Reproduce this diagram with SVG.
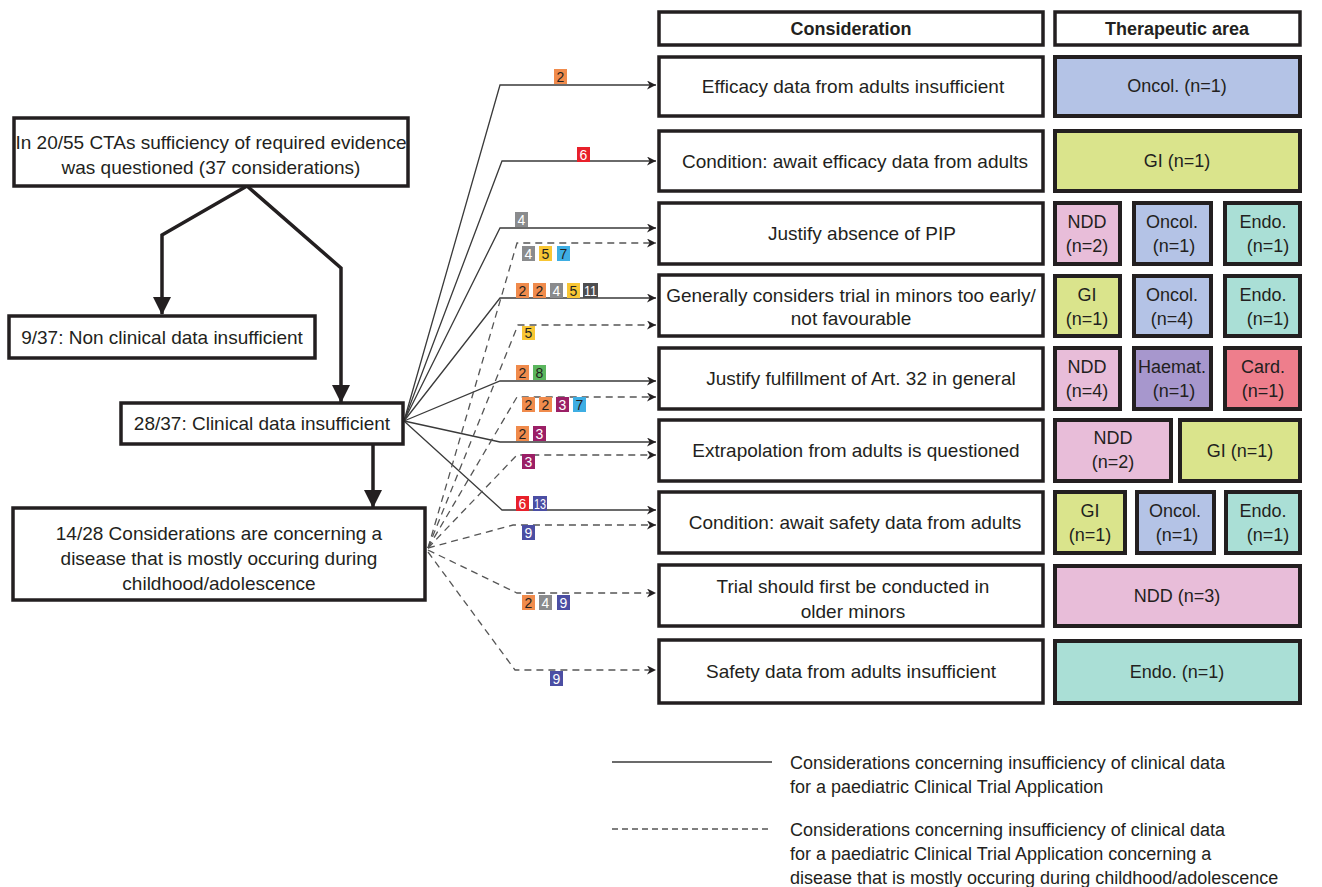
<svg xmlns="http://www.w3.org/2000/svg" width="1322" height="887" viewBox="0 0 1322 887">
<style>
text{font-family:"Liberation Sans",Arial,sans-serif;fill:#231f20}
.t{font-size:19px;text-anchor:middle}
.h{font-size:18px;font-weight:bold;text-anchor:middle}
.ta{font-size:18px;text-anchor:middle}
.lg{font-size:18px}
.box{fill:#fff;stroke:#231f20;stroke-width:3.5}
.tb{stroke:#231f20;stroke-width:4}
.onc{fill:#b4c3e6}.gi{fill:#dae48c}.ndd{fill:#e8bdd9}.endo{fill:#aadfd6}.hae{fill:#a797cd}.card{fill:#ee7e8c}
.flow{fill:none;stroke:#231f20;stroke-width:3.5}
.s{fill:none;stroke:#3a3a3a;stroke-width:1.3}
.d{fill:none;stroke:#555;stroke-width:1.3;stroke-dasharray:7 5}
.b text{font-size:14px;text-anchor:middle}
.w{fill:#fff}
</style>
<defs>
<marker id="a" viewBox="0 0 10 10" refX="10" refY="5" markerWidth="9" markerHeight="9" markerUnits="userSpaceOnUse" orient="auto">
<path d="M0,0 L10,5 L0,10 L3,5 z" fill="#231f20"/>
</marker>
<marker id="A" viewBox="0 0 18 18" refX="17" refY="9" markerWidth="18" markerHeight="18" markerUnits="userSpaceOnUse" orient="auto">
<path d="M0,0 L18,9 L0,18 z" fill="#231f20"/>
</marker>
</defs>

<g id="connectors">
<polyline class="flow" points="247,186 162,235 162,314" marker-end="url(#A)"/>
<polyline class="flow" points="247,186 341,268 341,402" marker-end="url(#A)"/>
<line class="flow" x1="373" y1="445" x2="373" y2="507" marker-end="url(#A)"/>
<polyline class="s" points="404,421 500,85 656,85" marker-end="url(#a)"/>
<polyline class="s" points="404,421 502,161 656,161" marker-end="url(#a)"/>
<polyline class="s" points="404,421 500,228 656,228" marker-end="url(#a)"/>
<polyline class="s" points="404,421 500,298 656,298" marker-end="url(#a)"/>
<polyline class="s" points="404,421 500,381 656,381" marker-end="url(#a)"/>
<polyline class="s" points="404,421 500,442 656,442" marker-end="url(#a)"/>
<polyline class="s" points="404,421 502,510 656,510" marker-end="url(#a)"/>
<polyline class="d" points="428,548 517,243 656,243" marker-end="url(#a)"/>
<polyline class="d" points="428,548 518,325 656,325" marker-end="url(#a)"/>
<polyline class="d" points="428,548 517,397 656,397" marker-end="url(#a)"/>
<polyline class="d" points="428,548 517,455 656,455" marker-end="url(#a)"/>
<polyline class="d" points="428,548 513,525 656,525" marker-end="url(#a)"/>
<polyline class="d" points="428,550 517,593 656,593" marker-end="url(#a)"/>
<polyline class="d" points="428,552 515,670 656,670" marker-end="url(#a)"/>
</g>

<g id="badges" class="b">
<rect x="554" y="69" width="13" height="15" fill="#f08b4c"/><text x="560.5" y="82">2</text>
<rect x="577" y="147" width="13" height="15" fill="#e8202a"/><text class="w" x="583.5" y="160">6</text>
<rect x="515" y="212" width="13" height="15" fill="#8a8b8d"/><text class="w" x="521.5" y="225">4</text>
<rect x="522" y="246" width="13" height="15" fill="#8a8b8d"/><text class="w" x="528.5" y="259">4</text>
<rect x="539" y="246" width="13" height="15" fill="#f8c634"/><text x="545.5" y="259">5</text>
<rect x="557" y="246" width="13" height="15" fill="#3eaee3"/><text x="563.5" y="259">7</text>
<rect x="516" y="283" width="13" height="15" fill="#f08b4c"/><text x="522.5" y="296">2</text>
<rect x="533" y="283" width="13" height="15" fill="#f08b4c"/><text x="539.5" y="296">2</text>
<rect x="550" y="283" width="13" height="15" fill="#8a8b8d"/><text class="w" x="556.5" y="296">4</text>
<rect x="567" y="283" width="13" height="15" fill="#f8c634"/><text x="573.5" y="296">5</text>
<rect x="583" y="283" width="15" height="15" fill="#4d4d4f"/><text class="w" x="590.5" y="296" textLength="13" lengthAdjust="spacingAndGlyphs">11</text>
<rect x="522" y="326" width="13" height="14" fill="#f8c634"/><text x="528.5" y="338">5</text>
<rect x="516" y="365" width="13" height="15" fill="#f08b4c"/><text x="522.5" y="378">2</text>
<rect x="533" y="365" width="13" height="15" fill="#5bb65e"/><text x="539.5" y="378">8</text>
<rect x="522" y="397" width="13" height="15" fill="#f08b4c"/><text x="528.5" y="410">2</text>
<rect x="539" y="397" width="13" height="15" fill="#f08b4c"/><text x="545.5" y="410">2</text>
<rect x="556" y="397" width="13" height="15" fill="#9b1f66"/><text class="w" x="562.5" y="410">3</text>
<rect x="573" y="397" width="13" height="15" fill="#3eaee3"/><text x="579.5" y="410">7</text>
<rect x="516" y="426" width="13" height="15" fill="#f08b4c"/><text x="522.5" y="439">2</text>
<rect x="533" y="426" width="13" height="15" fill="#9b1f66"/><text class="w" x="539.5" y="439">3</text>
<rect x="522" y="454" width="13" height="15" fill="#9b1f66"/><text class="w" x="528.5" y="467">3</text>
<rect x="516" y="496" width="13" height="15" fill="#e8202a"/><text class="w" x="522.5" y="509">6</text>
<rect x="533" y="496" width="14" height="15" fill="#4b4ea3"/><text class="w" x="540" y="509" textLength="12" lengthAdjust="spacingAndGlyphs">13</text>
<rect x="522" y="525" width="13" height="15" fill="#4b4ea3"/><text class="w" x="528.5" y="538">9</text>
<rect x="522" y="595" width="13" height="15" fill="#f08b4c"/><text x="528.5" y="608">2</text>
<rect x="539" y="595" width="13" height="15" fill="#8a8b8d"/><text class="w" x="545.5" y="608">4</text>
<rect x="557" y="595" width="13" height="15" fill="#4b4ea3"/><text class="w" x="563.5" y="608">9</text>
<rect x="550" y="671" width="13" height="15" fill="#4b4ea3"/><text class="w" x="556.5" y="684">9</text>
</g>

<g id="n-top"><rect class="box" x="14" y="118" width="394" height="68"/>
<text class="t" x="211" y="149">In 20/55 CTAs sufficiency of required evidence</text>
<text class="t" x="211" y="174">was questioned (37 considerations)</text></g>
<g id="n-nonclin"><rect class="box" x="9" y="316" width="306" height="42"/>
<text class="t" x="162" y="344">9/37: Non clinical data insufficient</text></g>
<g id="n-clin"><rect class="box" x="121" y="403" width="282" height="41"/>
<text class="t" x="262" y="430">28/37: Clinical data insufficient</text></g>
<g id="n-child"><rect class="box" x="13" y="508" width="412" height="92"/>
<text class="t" x="219" y="540">14/28 Considerations are concerning a</text>
<text class="t" x="219" y="565">disease that is mostly occuring during</text>
<text class="t" x="219" y="590">childhood/adolescence</text></g>

<g id="h-cons"><rect class="box" x="659" y="12" width="384" height="33"/><text class="h" x="851" y="35">Consideration</text></g>
<g id="h-ta"><rect class="box" x="1055" y="12" width="245" height="33"/><text class="h" x="1177" y="35">Therapeutic area</text></g>

<g id="c1"><rect class="box" x="659" y="57" width="384" height="59"/><text class="t" x="853" y="93">Efficacy data from adults insufficient</text></g>
<g id="c2"><rect class="box" x="659" y="131" width="384" height="60"/><text class="t" x="855" y="168">Condition: await efficacy data from adults</text></g>
<g id="c3"><rect class="box" x="659" y="203" width="384" height="61"/><text class="t" x="862" y="240">Justify absence of PIP</text></g>
<g id="c4"><rect class="box" x="659" y="275" width="384" height="61"/><text class="t" x="851" y="302">Generally considers trial in minors too early/</text><text class="t" x="851" y="325">not favourable</text></g>
<g id="c5"><rect class="box" x="659" y="348" width="384" height="61"/><text class="t" x="861" y="385">Justify fulfillment of Art. 32 in general</text></g>
<g id="c6"><rect class="box" x="659" y="420" width="384" height="61"/><text class="t" x="856" y="457">Extrapolation from adults is questioned</text></g>
<g id="c7"><rect class="box" x="659" y="492" width="384" height="61"/><text class="t" x="855" y="529">Condition: await safety data from adults</text></g>
<g id="c8"><rect class="box" x="659" y="565" width="384" height="61"/><text class="t" x="853" y="593">Trial should first be conducted in</text><text class="t" x="853" y="618">older minors</text></g>
<g id="c9"><rect class="box" x="659" y="640" width="384" height="63"/><text class="t" x="851" y="678">Safety data from adults insufficient</text></g>

<g id="t1"><rect class="tb onc" x="1055" y="57" width="245" height="59"/><text class="ta" x="1177" y="92">Oncol. (n=1)</text></g>
<g id="t2"><rect class="tb gi" x="1055" y="131" width="245" height="60"/><text class="ta" x="1177" y="167">GI (n=1)</text></g>
<g id="t3a"><rect class="tb ndd" x="1055" y="203" width="65" height="61"/><text class="ta" x="1087" y="228">NDD</text><text class="ta" x="1087" y="252">(n=2)</text></g>
<g id="t3b"><rect class="tb onc" x="1134" y="203" width="77" height="61"/><text class="ta" x="1172" y="228">Oncol.</text><text class="ta" x="1174" y="252">(n=1)</text></g>
<g id="t3c"><rect class="tb endo" x="1225" y="203" width="75" height="61"/><text class="ta" x="1263" y="228">Endo.</text><text class="ta" x="1268" y="252">(n=1)</text></g>
<g id="t4a"><rect class="tb gi" x="1055" y="276" width="65" height="60"/><text class="ta" x="1087" y="301">GI</text><text class="ta" x="1087" y="325">(n=1)</text></g>
<g id="t4b"><rect class="tb onc" x="1134" y="276" width="77" height="60"/><text class="ta" x="1172" y="301">Oncol.</text><text class="ta" x="1172" y="325">(n=4)</text></g>
<g id="t4c"><rect class="tb endo" x="1225" y="276" width="75" height="60"/><text class="ta" x="1263" y="301">Endo.</text><text class="ta" x="1268" y="325">(n=1)</text></g>
<g id="t5a"><rect class="tb ndd" x="1055" y="348" width="65" height="61"/><text class="ta" x="1087" y="373">NDD</text><text class="ta" x="1087" y="397">(n=4)</text></g>
<g id="t5b"><rect class="tb hae" x="1134" y="348" width="77" height="61"/><text class="ta" x="1172" y="373">Haemat.</text><text class="ta" x="1174" y="397">(n=1)</text></g>
<g id="t5c"><rect class="tb card" x="1225" y="348" width="75" height="61"/><text class="ta" x="1263" y="373">Card.</text><text class="ta" x="1263" y="397">(n=1)</text></g>
<g id="t6a"><rect class="tb ndd" x="1055" y="420" width="116" height="61"/><text class="ta" x="1113" y="444">NDD</text><text class="ta" x="1113" y="468">(n=2)</text></g>
<g id="t6b"><rect class="tb gi" x="1180" y="420" width="120" height="61"/><text class="ta" x="1240" y="457">GI (n=1)</text></g>
<g id="t7a"><rect class="tb gi" x="1055" y="492" width="70" height="61"/><text class="ta" x="1090" y="517">GI</text><text class="ta" x="1090" y="541">(n=1)</text></g>
<g id="t7b"><rect class="tb onc" x="1137" y="492" width="77" height="61"/><text class="ta" x="1175" y="517">Oncol.</text><text class="ta" x="1177" y="541">(n=1)</text></g>
<g id="t7c"><rect class="tb endo" x="1226" y="492" width="74" height="61"/><text class="ta" x="1263" y="517">Endo.</text><text class="ta" x="1268" y="541">(n=1)</text></g>
<g id="t8"><rect class="tb ndd" x="1055" y="566" width="245" height="60"/><text class="ta" x="1177" y="602">NDD (n=3)</text></g>
<g id="t9"><rect class="tb endo" x="1055" y="641" width="245" height="62"/><text class="ta" x="1177" y="678">Endo. (n=1)</text></g>

<g id="legend">
<line x1="612" y1="762" x2="772" y2="762" stroke="#3a3a3a" stroke-width="1.3"/>
<line x1="612" y1="829" x2="772" y2="829" stroke="#555" stroke-width="1.3" stroke-dasharray="6 4"/>
<text class="lg" x="790" y="769">Considerations concerning insufficiency of clinical data</text>
<text class="lg" x="790" y="793">for a paediatric Clinical Trial Application</text>
<text class="lg" x="790" y="836">Considerations concerning insufficiency of clinical data</text>
<text class="lg" x="790" y="860">for a paediatric Clinical Trial Application concerning a</text>
<text class="lg" x="790" y="884">disease that is mostly occuring during childhood/adolescence</text>
</g>
</svg>
